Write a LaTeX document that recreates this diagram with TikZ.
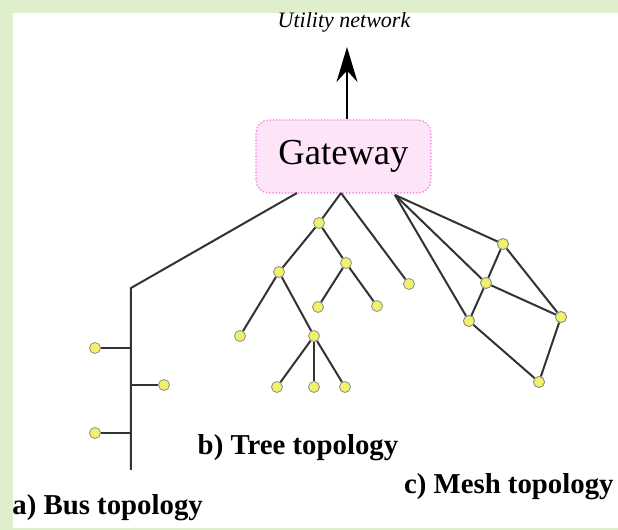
\documentclass[tikz,border=0pt]{standalone}
\usepackage{fontspec}
\setmainfont{Liberation Serif}
\usetikzlibrary{arrows.meta}
\definecolor{bgGreen}{HTML}{DDF0CB}
\definecolor{gwPink}{HTML}{FDE4F8}
\definecolor{gwBorder}{HTML}{F070E0}
\definecolor{devYellow}{HTML}{F2F26A}
\tikzset{
  gw_box/.style = {draw=gwBorder, densely dotted, line width=0.6pt, fill=gwPink, rounded corners=6.5pt,
    minimum width=87.5pt, minimum height=36.5pt, inner sep=0pt, font=\fontsize{18.3}{20}\selectfont},
  dev_n/.style = {circle, draw=black!45, fill=devYellow, inner sep=0pt, minimum size=5.5pt, line width=0.4pt},
  link/.style = {draw=black!80, line width=1pt},
  topo_lbl/.style = {inner sep=0pt, font=\fontsize{14.4}{16}\selectfont\bfseries}
}
\begin{document}
\begin{tikzpicture}[x=0.5pt, y=-0.5pt]
	\fill[bgGreen] (0,0) rectangle (618,530);
	\fill[white] (13,13) rectangle (618,528);
	\useasboundingbox (0,0) rectangle (618,530);
	\begin{scope}
	\clip (13,13) rectangle (618,528);
	\node [gw_box] (gw) at (343.5,156.5) {Gateway};
	\node [inner sep=0pt, font=\fontsize{11}{13}\selectfont\itshape] (net_lbl) at (344,22) {Utility network};
	\coordinate (net) at (347,47);
	\draw [line width=1pt, -{Stealth[length=17.5pt, width=10.5pt]}] (gw.north -| net) -- (net);
	\coordinate (gw_w) at (297,193);
	\coordinate (gw_c) at (341,193);
	\coordinate (gw_e) at (395,195);
	% bus
	\coordinate (bus_top) at (131,288);
	\coordinate (bus_end) at (131,470);
	\coordinate (bus_1) at (131,348);
	\coordinate (bus_2) at (131,385);
	\coordinate (bus_3) at (131,433);
	\node [dev_n] (b1) at (95,348) {};
	\node [dev_n] (b2) at (164,385) {};
	\node [dev_n] (b3) at (95,433) {};
	\draw [link] (gw_w) -- (bus_top) -- (bus_end);
	\draw [link] (bus_1) -- (b1);
	\draw [link] (bus_2) -- (b2);
	\draw [link] (bus_3) -- (b3);
	% tree
	\node [dev_n] (t1) at (319,223) {};
	\node [dev_n] (t2) at (279,272) {};
	\node [dev_n] (t3) at (346,263) {};
	\node [dev_n] (t4) at (409,284) {};
	\node [dev_n] (t5) at (318,307) {};
	\node [dev_n] (t6) at (377,306) {};
	\node [dev_n] (t7) at (240,336) {};
	\node [dev_n] (t8) at (314,336) {};
	\node [dev_n] (t9) at (277,387) {};
	\node [dev_n] (t10) at (314,387) {};
	\node [dev_n] (t11) at (345,387) {};
	\draw [link] (gw_c) -- (t1);
	\draw [link] (gw_c) -- (t4);
	\draw [link] (t1) -- (t2);
	\draw [link] (t1) -- (t3);
	\draw [link] (t3) -- (t5);
	\draw [link] (t3) -- (t6);
	\draw [link] (t2) -- (t7);
	\draw [link] (t2) -- (t8);
	\draw [link] (t8) -- (t9);
	\draw [link] (t8) -- (t10);
	\draw [link] (t8) -- (t11);
	% mesh
	\node [dev_n] (m1) at (503,244) {};
	\node [dev_n] (m2) at (486,283) {};
	\node [dev_n] (m3) at (469,321) {};
	\node [dev_n] (m4) at (561,317) {};
	\node [dev_n] (m5) at (539,382) {};
	\draw [link] (gw_e) -- (m1);
	\draw [link] (gw_e) -- (m2);
	\draw [link] (gw_e) -- (m3);
	\draw [link] (m1) -- (m2);
	\draw [link] (m2) -- (m3);
	\draw [link] (m1) -- (m4);
	\draw [link] (m2) -- (m4);
	\draw [link] (m3) -- (m5);
	\draw [link] (m4) -- (m5);
	\node [dev_n] at (m1) {};
	\node [dev_n] at (m2) {};
	\node [dev_n] at (m3) {};
	\node [dev_n] at (m4) {};
	\node [dev_n] at (m5) {};
	% labels
	\node [topo_lbl, anchor=west] (bus_lbl) at (12,508) {a) Bus topology};
	\node [topo_lbl] (tree_lbl) at (298,448) {b) Tree topology};
	\node [topo_lbl, anchor=east] (mesh_lbl) at (614,487) {c) Mesh topology};
	\end{scope}
\end{tikzpicture}
\end{document}
